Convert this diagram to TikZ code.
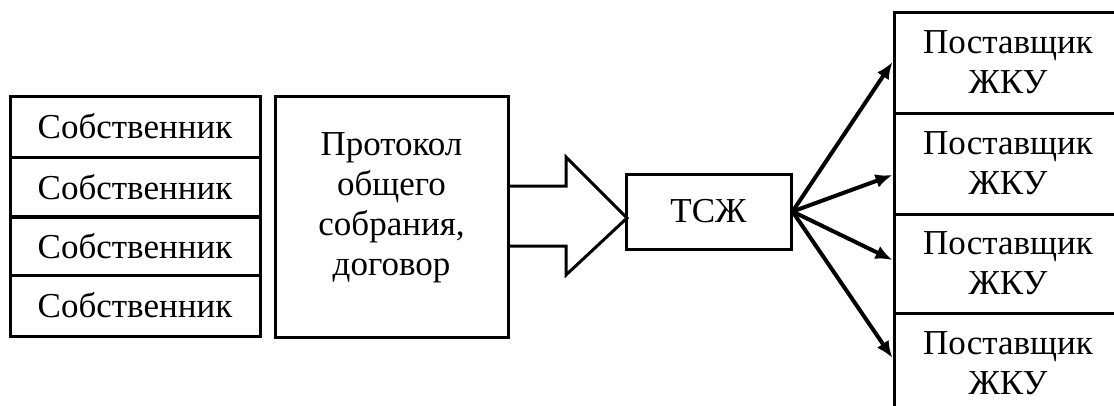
\documentclass[tikz,border=0pt]{standalone}
\usepackage{fontspec}
\setmainfont{Liberation Serif}
\usetikzlibrary{arrows.meta,calc}
\begin{document}
\begin{tikzpicture}[x=1pt,y=-1pt,
  box/.style={draw=black,line width=3pt,rectangle,inner sep=0pt,align=center,
    font=\fontsize{35}{40}\selectfont},
  conn/.style={line width=4pt,-{Latex[length=17pt,width=14pt]}}]
\clip (0,0) rectangle (1114,405);
\fill[white] (0,0) rectangle (1114,405);
% owners
\node[box,minimum width=250pt,minimum height=61pt] (s1) at (135,126.5) {Собственник};
\node[box,minimum width=250pt,minimum height=59pt] (s2) at (135,187) {Собственник};
\node[box,minimum width=250pt,minimum height=58pt] (s3) at (135,246) {Собственник};
\node[box,minimum width=250pt,minimum height=61pt] (s4) at (135,305.5) {Собственник};
% protocol
\node[box,minimum width=233pt,minimum height=241pt] (p) at (391.5,216.5) {};
\node[font=\fontsize{35}{40}\selectfont,align=center,inner sep=0pt] (ptxt) at (391.5,208) {Протокол\\общего\\собрания,\\договор};
% TSZh
\node[box,minimum width=165pt,minimum height=75pt] (t) at (708.5,211.5) {ТСЖ};
\coordinate (tip) at (627,218);
% block arrow
\draw[line width=3pt,line join=miter] (p.east |- 0,186) -- (566,186) -- (566,157) -- (tip) -- (566,275) -- (566,246) -- (p.east |- 0,246);
% suppliers
\node[box,minimum width=228pt,minimum height=101pt] (r1) at (1008,62.5) {Поставщик\\ЖКУ};
\node[box,minimum width=228pt,minimum height=101pt] (r2) at (1008,163.5) {Поставщик\\ЖКУ};
\node[box,minimum width=228pt,minimum height=99pt] (r3) at (1008,263.5) {Поставщик\\ЖКУ};
\node[box,minimum width=228pt,minimum height=101pt] (r4) at (1008,363.5) {Поставщик\\ЖКУ};
% connectors
\draw[conn] (t.east) -- (r1.west |- 0,62);
\draw[conn] (t.east) -- (r2.west |- 0,175);
\draw[conn] (t.east) -- (r3.west |- 0,260);
\draw[conn] (t.east) -- (r4.west |- 0,358);
\end{tikzpicture}
\end{document}
